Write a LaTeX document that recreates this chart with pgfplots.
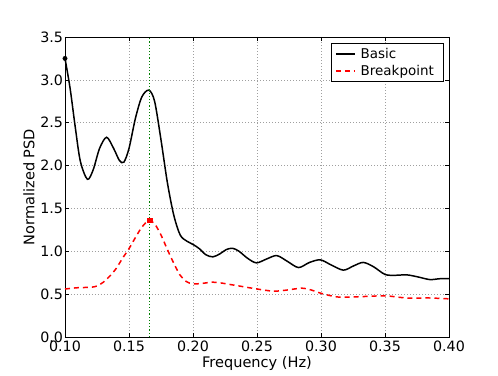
\documentclass[border=0pt]{standalone}
\usepackage{fontspec}
\setmainfont{DejaVu Sans}
\usepackage{pgfplots}
\pgfplotsset{compat=1.18}

\definecolor{mplgreen}{RGB}{0,128,0}

\begin{document}
\begin{tikzpicture}
\path[use as bounding box] (-65bp,-39bp) rectangle (433bp,337bp);
\begin{axis}[
  scale only axis, width=384bp, height=300bp,
  xmin=0.10, xmax=0.40, ymin=0, ymax=3.5,
  xtick={0.10,0.15,...,0.41}, ytick={0,0.5,...,3.6},
  x tick label style={/pgf/number format/fixed, /pgf/number format/fixed zerofill,
    /pgf/number format/precision=2, anchor=base, yshift=-14.5bp},
  y tick label style={/pgf/number format/fixed, /pgf/number format/fixed zerofill,
    /pgf/number format/precision=1, anchor=east, xshift=1.5bp},
  /pgf/number format/assume math mode=true,
  tick label style={font=\fontsize{14.3}{16}\selectfont},
  label style={font=\fontsize{14.6}{16}\selectfont},
  xlabel={Frequency (Hz)}, ylabel={Normalized PSD},
  xlabel style={at={(rel axis cs:0.5,0)}, anchor=base, yshift=-30bp},
  ylabel style={at={([xshift=-36bp]rel axis cs:0,0.5)}, anchor=center},
  grid=major, major grid style={gray!75, dash pattern=on 1bp off 2bp, line width=0.6pt},
  tick align=inside, major tick length=4bp, tick style={black, line width=0.5pt},
  axis line style={line width=0.8pt},
  clip=false,
  legend cell align=left,
  legend style={at={(rel axis cs:1,1)}, anchor=north east, xshift=-6bp, yshift=-6bp,
    font=\fontsize{13.5}{15}\selectfont, draw=black,
    inner xsep=4bp, inner ysep=3bp, row sep=1bp,
    nodes={inner xsep=5bp, inner ysep=2bp}},
  legend image code/.code={\draw[#1, line width=1.5pt] (0bp,0bp) -- (19bp,0bp);},
]
\addplot[black, line width=1.5pt, smooth, tension=0.5] coordinates {
(0.100,3.25) (0.104,2.90) (0.108,2.45) (0.112,2.05) (0.1175,1.84) (0.122,1.95)
(0.127,2.20) (0.1325,2.33) (0.138,2.20) (0.1425,2.06) (0.146,2.04) (0.150,2.20)
(0.155,2.55) (0.160,2.80) (0.1655,2.88) (0.170,2.75) (0.175,2.30) (0.180,1.80)
(0.185,1.42) (0.190,1.19) (0.195,1.12) (0.200,1.08) (0.205,1.03) (0.210,0.96)
(0.2155,0.935) (0.221,0.97) (0.226,1.02) (0.231,1.035) (0.236,1.00) (0.2425,0.92)
(0.2495,0.865) (0.2575,0.91) (0.2655,0.95) (0.274,0.88) (0.2825,0.81) (0.291,0.87)
(0.2995,0.90) (0.308,0.84) (0.3175,0.78) (0.3255,0.83) (0.333,0.87) (0.341,0.82)
(0.350,0.73) (0.358,0.72) (0.367,0.725) (0.376,0.70) (0.385,0.67) (0.393,0.68)
(0.400,0.68)
};
\addlegendentry{Basic}
\addplot[red, line width=1.5pt, dash pattern=on 5bp off 4bp, smooth, tension=0.5] coordinates {
(0.100,0.56) (0.110,0.575) (0.120,0.58) (0.125,0.595) (0.130,0.64) (0.135,0.71)
(0.140,0.80) (0.145,0.92) (0.150,1.03) (0.155,1.16) (0.160,1.28) (0.1655,1.36)
(0.170,1.32) (0.175,1.19) (0.180,1.02) (0.185,0.86) (0.190,0.72) (0.195,0.645)
(0.200,0.62) (0.207,0.625) (0.215,0.64) (0.222,0.63) (0.230,0.61) (0.240,0.585)
(0.250,0.56) (0.2625,0.535) (0.272,0.545) (0.285,0.57) (0.292,0.55) (0.300,0.51)
(0.308,0.48) (0.315,0.465) (0.330,0.47) (0.350,0.48) (0.367,0.455) (0.385,0.455)
(0.400,0.445)
};
\addlegendentry{Breakpoint}
\addplot[mplgreen, line width=1.2pt, dash pattern=on 1.2bp off 2bp, forget plot] coordinates {(0.1662,0) (0.1662,3.5)};
\addplot[only marks, mark=*, mark size=2.2bp, black, forget plot] coordinates {(0.100,3.25)};
\addplot[only marks, mark=square*, mark size=2.2bp, red, forget plot] coordinates {(0.1662,1.36)};
\end{axis}
\end{tikzpicture}
\end{document}
